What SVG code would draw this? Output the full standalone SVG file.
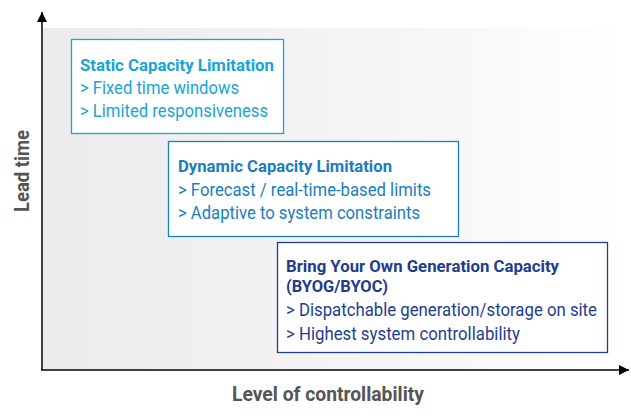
<svg xmlns="http://www.w3.org/2000/svg" width="631" height="416" viewBox="0 0 631 416">
<defs>
<linearGradient id="bg" x1="0" y1="0" x2="1" y2="0">
<stop offset="0" stop-color="#ebebeb"/>
<stop offset="0.6" stop-color="#f5f5f5"/>
<stop offset="1" stop-color="#ffffff"/>
</linearGradient>
<marker id="arr" viewBox="0 0 10 10" refX="10" refY="5" markerWidth="10" markerHeight="10" markerUnits="userSpaceOnUse" orient="auto">
<path d="M0,0 L10,5 L0,10 Z" fill="#000"/>
</marker>
<style>
text{font-family:"Roboto","Liberation Sans",sans-serif;}
.t{font-weight:bold;font-size:17px;}
.t2{font-weight:bold;font-size:16.5px;}
.l{font-size:17.5px;}
.ax{font-weight:bold;font-size:21px;fill:#555555;}
.box{fill:#ffffff;stroke-width:1.3;}
</style>
</defs>
<rect x="43" y="28" width="585" height="341" fill="url(#bg)"/>
<g id="connectors">
<line x1="42" y1="370" x2="42" y2="12" stroke="#000" stroke-width="1.5" marker-end="url(#arr)"/>
<line x1="41" y1="370" x2="629" y2="370" stroke="#000" stroke-width="1.5" marker-end="url(#arr)"/>
</g>
<g id="static">
<rect class="box" x="71.5" y="39.5" width="212" height="94" stroke="#19a6d6"/>
<g fill="#17a5d6">
<text class="t" x="80" y="71" textLength="194" lengthAdjust="spacingAndGlyphs">Static Capacity Limitation</text>
<text class="l" x="80" y="94" textLength="159" lengthAdjust="spacingAndGlyphs">&gt; Fixed time windows</text>
<text class="l" x="80" y="117" textLength="188" lengthAdjust="spacingAndGlyphs">&gt; Limited responsiveness</text>
</g>
</g>
<g id="dynamic">
<rect class="box" x="168.5" y="141.5" width="290" height="95" stroke="#1a7fc0"/>
<g fill="#1a7dbf">
<text class="t" x="178" y="172" textLength="214" lengthAdjust="spacingAndGlyphs">Dynamic Capacity Limitation</text>
<text class="l" x="178" y="196" textLength="253" lengthAdjust="spacingAndGlyphs">&gt; Forecast / real-time-based limits</text>
<text class="l" x="178" y="219" textLength="242" lengthAdjust="spacingAndGlyphs">&gt; Adaptive to system constraints</text>
</g>
</g>
<g id="byog">
<rect class="box" x="277.5" y="242.5" width="330" height="110" stroke="#1f3f8f"/>
<g fill="#1e3d8f">
<text class="t2" x="286" y="272" textLength="273" lengthAdjust="spacingAndGlyphs">Bring Your Own Generation Capacity</text>
<text class="t2" x="286" y="292" textLength="102" lengthAdjust="spacingAndGlyphs">(BYOG/BYOC)</text>
<text class="l" x="286" y="316" textLength="311" lengthAdjust="spacingAndGlyphs">&gt; Dispatchable generation/storage on site</text>
<text class="l" x="286" y="340" textLength="234" lengthAdjust="spacingAndGlyphs">&gt; Highest system controllability</text>
</g>
</g>
<text class="ax" x="232" y="401" textLength="192" lengthAdjust="spacingAndGlyphs">Level of controllability</text>
<text class="ax" transform="translate(29,212) rotate(-90)" x="0" y="0" textLength="82" lengthAdjust="spacingAndGlyphs">Lead time</text>
</svg>
